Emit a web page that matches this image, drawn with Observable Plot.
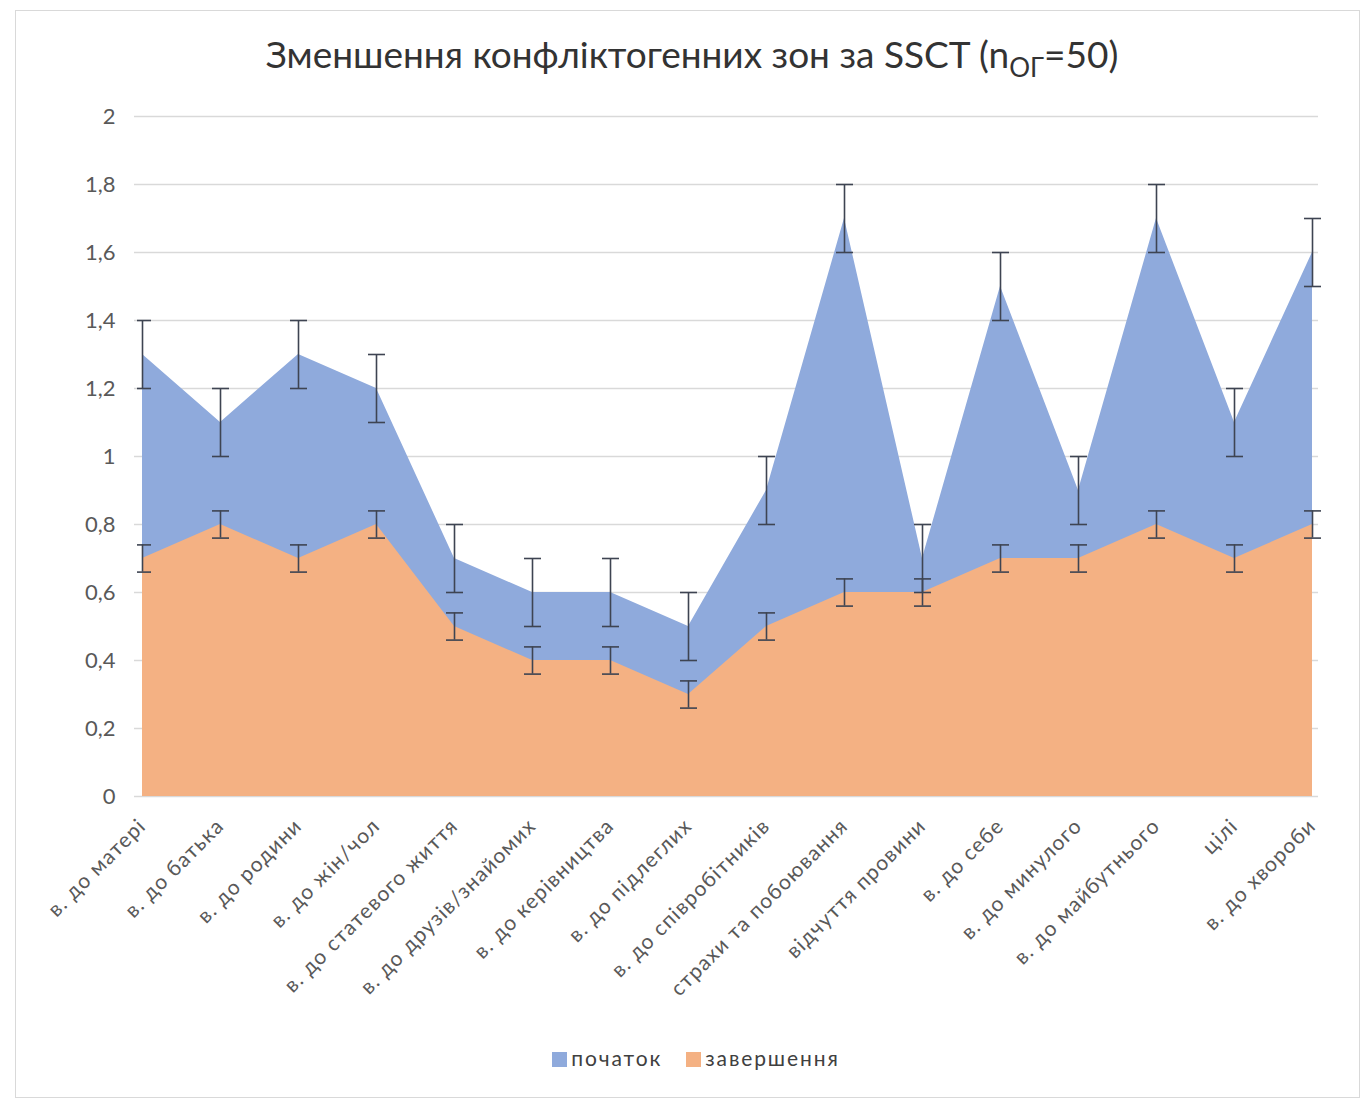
<!DOCTYPE html>
<html><head><meta charset="utf-8">
<script src="https://cdn.jsdelivr.net/npm/d3@7"></script>
<script src="https://cdn.jsdelivr.net/npm/@observablehq/plot@0.6"></script>
<style>
body{margin:0;background:#fff;font-family:Lato,"Open Sans",sans-serif;overflow:hidden;}
#frame{position:absolute;left:15px;top:10px;width:1345px;height:1088px;border:1px solid #d9d9d9;box-sizing:border-box;}
#title{position:absolute;left:0;width:1384px;top:31px;text-align:center;font-size:37px;color:#333;}
#title sub{font-size:26px;vertical-align:-9px;line-height:0;}
#chart{position:absolute;left:0;top:100px;}
#chart svg{max-width:none;}
#chart g[aria-label="x-axis tick label"] text{letter-spacing:1.2px;}
#legend{position:absolute;top:1045px;left:0;width:1392px;text-align:center;font-size:21px;color:#404040;letter-spacing:1.9px;}
#legend span.sw{display:inline-block;width:15px;height:15px;margin-right:4px;vertical-align:-1px;}
#legend span.it{margin:0 12px;}
</style></head>
<body>
<div id="frame"></div>
<div id="title">Зменшення конфліктогенних зон за SSCT (n<sub>ОГ</sub>=50)</div>
<div id="chart"></div>
<div id="legend"></div>
<script>
const categories = ["в. до матері","в. до батька","в. до родини","в. до жін/чол","в. до статевого життя","в. до друзів/знайомих","в. до керівництва","в. до підлеглих","в. до співробітників","страхи та побоювання","відчуття провини","в. до себе","в. до минулого","в. до майбутнього","цілі","в. до хвороби"];
const startValues = [1.3,1.1,1.3,1.2,0.7,0.6,0.6,0.5,0.9,1.7,0.7,1.5,0.9,1.7,1.1,1.6];
const endValues   = [0.7,0.8,0.7,0.8,0.5,0.4,0.4,0.3,0.5,0.6,0.6,0.7,0.7,0.8,0.7,0.8];
const startErr = [0.1,0.1,0.1,0.1,0.1,0.1,0.1,0.1,0.1,0.1,0.1,0.1,0.1,0.1,0.1,0.1];
const endErr   = [0.04,0.04,0.04,0.04,0.04,0.04,0.04,0.04,0.04,0.04,0.04,0.04,0.04,0.04,0.04,0.04];
const yTicks = [0,0.2,0.4,0.6,0.8,1,1.2,1.4,1.6,1.8,2];
const seriesNames = ["початок","завершення"];
const seriesColors = ["#8faadc","#f4b183"];
const errColor = "#3e4452";

const data = categories.map((c,i)=>({c, s:startValues[i], e:endValues[i], se:startErr[i], ee:endErr[i]}));
const caps = [];
data.forEach(d=>{
  caps.push({c:d.c, v:d.s-d.se}); caps.push({c:d.c, v:d.s+d.se});
  caps.push({c:d.c, v:d.e-d.ee}); caps.push({c:d.c, v:d.e+d.ee});
});
const capSymbol = {draw(ctx){ ctx.moveTo(-8.5,0); ctx.lineTo(8.5,0); }};

const chart = Plot.plot({
  width:1362, height:900,
  marginTop:16, marginBottom:204, marginLeft:137, marginRight:40,
  style:{fontFamily:"Lato, 'Open Sans', sans-serif", background:"transparent"},
  x:{type:"point", domain:categories, range:[137,1317], padding:0},
  y:{domain:[0,2]},
  marks:[
    Plot.ruleY(yTicks,{stroke:"#d9d9d9", strokeWidth:1.3, insetLeft:-3, insetRight:4}),
    Plot.areaY(data,{x:"c", y:"s", fill:seriesColors[0]}),
    Plot.areaY(data,{x:"c", y:"e", fill:seriesColors[1]}),
    Plot.ruleX(data,{x:"c", y1:d=>d.s-d.se, y2:d=>d.s+d.se, stroke:errColor, strokeWidth:1.6}),
    Plot.ruleX(data,{x:"c", y1:d=>d.e-d.ee, y2:d=>d.e+d.ee, stroke:errColor, strokeWidth:1.6}),
    Plot.dot(caps,{x:"c", y:"v", symbol:capSymbol, stroke:errColor, strokeWidth:1.6, fill:"none", clip:true}),
    Plot.axisY(yTicks,{tickSize:0, tickPadding:22, fontSize:22, fill:"#595959", label:null, tickFormat:d=>String(d).replace(".",",")}),
    Plot.axisX({tickRotate:-45, tickSize:0, tickPadding:26, fontSize:21, fill:"#595959", label:null})
  ]
});
document.getElementById("chart").appendChild(chart);

const legend = document.getElementById("legend");
seriesNames.forEach((n,i)=>{
  const it = document.createElement("span"); it.className="it";
  const sw = document.createElement("span"); sw.className="sw"; sw.style.background=seriesColors[i];
  it.appendChild(sw); it.appendChild(document.createTextNode(n));
  legend.appendChild(it);
});
</script>
</body></html>
